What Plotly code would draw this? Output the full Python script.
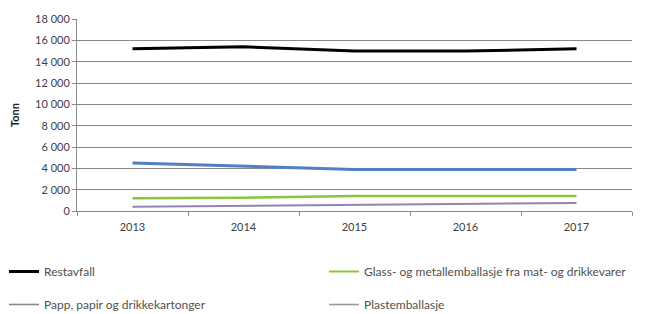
import plotly.graph_objects as go

years = ["2013", "2014", "2015", "2016", "2017"]
restavfall = [15200, 15400, 15000, 15000, 15200]
glass_metall = [1200, 1250, 1400, 1400, 1400]
papp_papir = [4500, 4200, 3900, 3900, 3900]
plast = [400, 480, 560, 600, 750]

names = ["Restavfall", "Glass- og metallemballasje fra mat- og drikkevarer",
         "Papp, papir og drikkekartonger", "Plastemballasje"]
series = [restavfall, glass_metall, papp_papir, plast]
line_colors = ["#000000", "#8cc63f", "#4f7fc4", "#8f86b5"]
legend_colors = ["#000000", "#8cc63f", "#8a8a8a", "#9a9a9a"]
widths = [3, 2.5, 3, 2]
legend_widths = [3, 2, 1.6, 1.6]
legend_ids = ["legend", "legend2", "legend", "legend2"]

# page has an 8px body margin; figure is sized to fill the rest of the window
W, H = 638, 306
L, T, R = 69, 11, 14
PH = 192
B = H - T - PH
PW = W - L - R

fig = go.Figure()
for name, vals, c, w in zip(names, series, line_colors, widths):
    fig.add_trace(go.Scatter(x=years, y=vals, mode="lines", name=name,
                             line=dict(color=c, width=w), showlegend=False))
for i, (name, c, w, lg) in enumerate(zip(names, legend_colors, legend_widths, legend_ids)):
    fig.add_trace(go.Scatter(x=[years[0]], y=[None], mode="lines", name=name,
                             line=dict(color=c, width=w), showlegend=True,
                             legend=lg, legendgroup="g%d" % i))

leg_common = dict(orientation="v", yanchor="top", tracegroupgap=14,
                  font=dict(size=12, color="#505050"), itemwidth=30,
                  bgcolor="rgba(0,0,0,0)")
leg_top = 272 - 8 - 15
fig.update_layout(
    width=W, height=H,
    margin=dict(l=L, r=R, t=T, b=B, autoexpand=False),
    paper_bgcolor="white", plot_bgcolor="white",
    font=dict(family="Lato, Open Sans, sans-serif", size=11, color="#404040"),
    separators=", ",
    showlegend=True,
    legend=dict(x=(-4 - L) / PW, xanchor="left", y=(T + PH - leg_top) / PH, **leg_common),
    legend2=dict(x=(316 - L) / PW, xanchor="left", y=(T + PH - leg_top) / PH, **leg_common),
)
fig.update_xaxes(type="category", range=[-0.5, 4.5], showgrid=False, showline=True,
                 linecolor="#8a8a8a", linewidth=1, ticks="outside", tickson="boundaries",
                 ticklen=4, tickcolor="#8a8a8a", ticklabelstandoff=6,
                 tickfont=dict(size=11, color="#404040"))
fig.update_yaxes(range=[0, 18000], dtick=2000, tickformat=",d", showgrid=True,
                 gridcolor="#8a8a8a", gridwidth=1, showline=True, linecolor="#8a8a8a",
                 ticks="outside", ticklen=4, tickcolor="#8a8a8a", zeroline=False,
                 tickfont=dict(size=11, color="#404040"),
                 title=dict(text="<b>Tonn</b>", font=dict(size=11, color="#202020"), standoff=19))

fig.write_html("out.html")
